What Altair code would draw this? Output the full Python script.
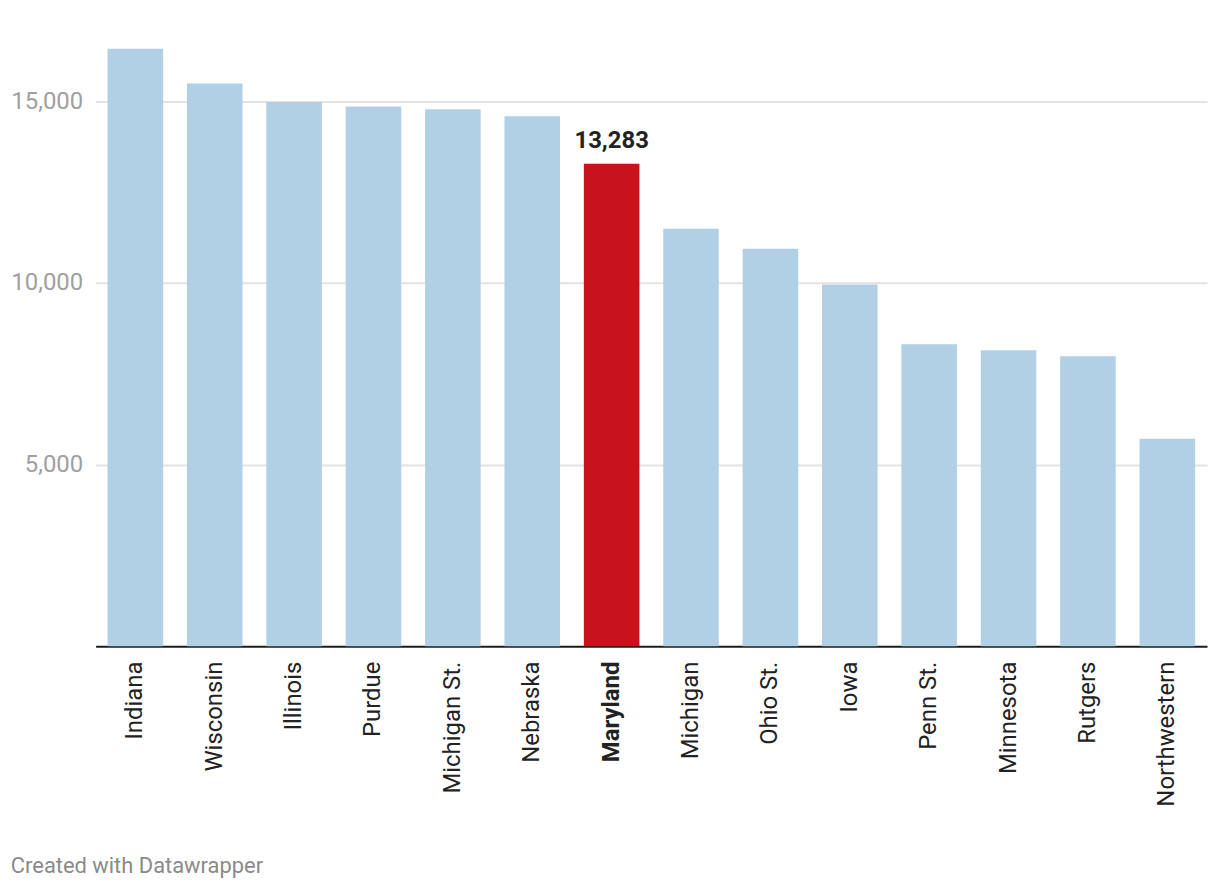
import altair as alt
import pandas as pd

teams = ["Indiana", "Wisconsin", "Illinois", "Purdue", "Michigan St.", "Nebraska",
         "Maryland", "Michigan", "Ohio St.", "Iowa", "Penn St.", "Minnesota",
         "Rutgers", "Northwestern"]
values = [16450, 15490, 14985, 14860, 14780, 14590, 13283, 11490, 10945, 9960,
          8315, 8150, 7985, 5710]
highlight = "Maryland"
y_ticks = [5000, 10000, 15000]

df = pd.DataFrame({"team": teams, "value": values})

x = alt.X("team:N", sort=teams, title=None,
          scale=alt.Scale(paddingInner=0.3, paddingOuter=0.15),
          axis=alt.Axis(labelAngle=270, ticks=False, labelPadding=15,
                        domainColor="#1d1d1d", domainWidth=2,
                        labelFont="Roboto", labelFontSize=24, labelColor="#222222",
                        labelFontWeight=alt.expr(f"datum.value == '{highlight}' ? 'bold' : 'normal'"),
                        grid=False))
y = alt.Y("value:Q", title=None,
          scale=alt.Scale(domain=[0, 17000], nice=False),
          axis=alt.Axis(values=y_ticks, labelExpr="format(datum.value, ',')",
                        domain=False, ticks=False,
                        labelPadding=13, labelFont="Roboto", labelFontSize=24,
                        labelColor="#a0a0a0", gridColor="#e3e3e3", gridWidth=2))

bars = alt.Chart(df).mark_bar().encode(
    x=x, y=y,
    color=alt.condition(alt.datum.team == highlight, alt.value("#c8131f"), alt.value("#b1d0e6")),
)

label = alt.Chart(df).transform_filter(alt.datum.team == highlight).mark_text(
    baseline="alphabetic", dy=-16, font="Roboto", fontSize=24, fontWeight="bold", color="#222222"
).encode(x=x, y=y, text=alt.Text("value:Q", format=","))

chart = (bars + label).properties(
    width=1116, height=620,
    padding={"left": 2, "top": 19, "right": 5, "bottom": 5},
    title=alt.TitleParams("Created with Datawrapper", orient="bottom", anchor="start",
                          frame="bounds", font="Roboto", fontSize=22, fontWeight="normal",
                          color="#8a8a8a", offset=50),
).configure_view(stroke=None)

chart.save("out.html", embed_options={"renderer": "svg", "actions": False})
